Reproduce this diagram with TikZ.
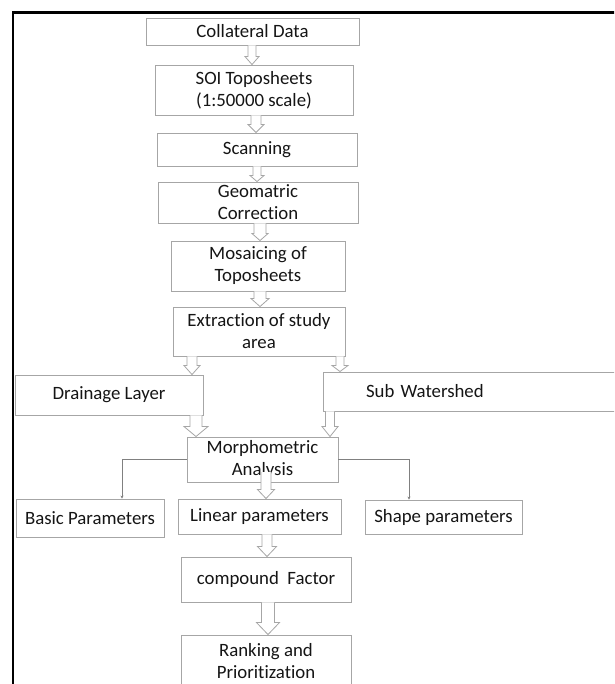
\documentclass[tikz,border=0pt]{standalone}
\usepackage{fontspec}
\setmainfont{Carlito}[Ligatures={NoCommon,NoContextual}]
\usetikzlibrary{calc,arrows.meta}
\definecolor{boxgray}{HTML}{A6A6A6}
\definecolor{inkgray}{HTML}{151515}
\newcommand{\harrow}[6]{%
   \draw[flowarrow] let \p1=(#2), \p2=(#3) in
      (#1pt-#4pt,\y1) -- (#1pt-#4pt,\y2+#6pt) -- (#1pt-#5pt,\y2+#6pt) -- (#1pt,\y2)
      -- (#1pt+#5pt,\y2+#6pt) -- (#1pt+#4pt,\y2+#6pt) -- (#1pt+#4pt,\y1);}

\begin{document}
\begin{tikzpicture}[x=1pt,y=-1pt,
   box/.style={draw=boxgray,line width=0.9pt,fill=white,text=inkgray,align=center,
      inner sep=0pt,font=\fontsize{18.8}{22}\selectfont},
   flowarrow/.style={draw=boxgray,line width=0.8pt,fill=white,line join=miter},
   branch/.style={draw=gray,line width=0.7pt,-{Stealth[length=3pt,width=3pt]}}]
   \useasboundingbox (0,0) rectangle (614,684);
   \clip (0,0) rectangle (614,684);
   \fill[white] (0,0) rectangle (614,684);
   \draw[line width=2.5pt] (13,12.5) rectangle (650,720);
   % main column
   \node[box,minimum width=213,minimum height=27] (collat) at (252.5,31.5) {Collateral Data};
   \node[box,minimum width=198,minimum height=50] (soi)    at (254,90)    {SOI Toposheets\\(1:50000 scale)};
   \node[box,minimum width=200,minimum height=33] (scan)   at (257,149.5) {Scanning};
   \node[box,minimum width=200,minimum height=41] (geo)    at (258,202.5) {Geomatric\\Correction};
   \node[box,minimum width=174,minimum height=50] (mosaic) at (258,266)   {Mosaicing of\\Toposheets};
   \node[box,minimum width=172,minimum height=49] (extract) at (259,331.5) {Extraction of study\\area};
   \node[box,minimum width=188,minimum height=40] (drain)  at (109,395)   {Drainage Layer};
   \node[box,text width=216,inner xsep=43,minimum height=39,align=left] (subw) at (474,391.5) {Sub Watershed};
   \node[box,minimum width=151,minimum height=45] (morph)  at (262.5,459.5) {Morphometric\\Analysis};
   \node[box,minimum width=148,minimum height=38] (basic)  at (90,518)    {Basic Parameters};
   \node[box,minimum width=163,minimum height=35] (linear) at (259.5,516.5) {Linear parameters};
   \node[box,minimum width=157,minimum height=34] (shape)  at (443.5,517) {Shape parameters};
   \node[box,minimum width=170,minimum height=45] (compound) at (266,579.5) {compound~~Factor};
   \node[box,minimum width=170,minimum height=53] (rank)   at (266,661.5) {Ranking and\\Prioritization};
   \coordinate (morphin) at (266,472);
   % hollow arrows
   \harrow{252}{collat.south}{soi.north}{4}{7}{8}
   \harrow{256}{soi.south}{scan.north}{5}{8}{8}
   \harrow{257}{scan.south}{geo.north}{4}{7}{6}
   \harrow{260}{geo.south}{mosaic.north}{6}{8}{7}
   \harrow{260}{mosaic.south}{extract.north}{6}{9}{8}
   \harrow{192}{extract.south-|192,0}{drain.north-|192,0}{5}{8}{9}
   \harrow{340}{extract.south-|340,0}{subw.north-|340,0}{4}{8}{6}
   \harrow{196}{drain.south-|196,0}{morph.north-|196,0}{6}{12}{10}
   \harrow{330}{subw.south-|330,0}{morph.north-|330,0}{4.5}{8}{10}
   \harrow{266}{morphin}{linear.north}{5}{8.5}{9}
   \harrow{267}{linear.south}{compound.north}{5}{9.5}{10}
   \harrow{268}{compound.south}{rank.north}{6.5}{11.5}{12}
   % side branches
   \draw[branch] (morph.west) -| (122,0 |- basic.north);
   \draw[branch] (morph.east) -| (409,0 |- shape.north);
\end{tikzpicture}
\end{document}
